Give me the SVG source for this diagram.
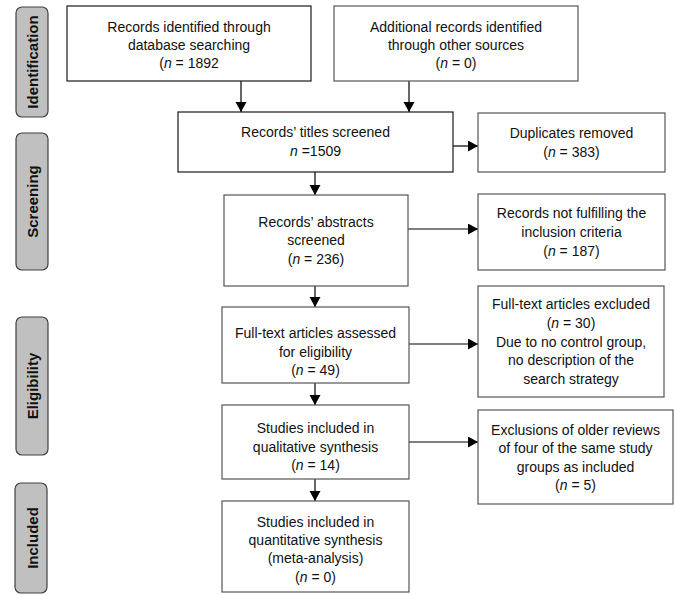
<svg xmlns="http://www.w3.org/2000/svg" width="675" height="595" viewBox="0 0 675 595">
<style>
.box{fill:#ffffff;stroke:#1a1a1a;stroke-width:1.2}
.gbox{fill:#ffffff;stroke:#555555;stroke-width:1.2}
.lab{fill:#c0c0c0;stroke:#404040;stroke-width:1.2}
.t{font-family:"Liberation Sans",Arial,sans-serif;font-size:14px;fill:#111111;text-anchor:middle}
.lt{font-family:"Liberation Sans",Arial,sans-serif;font-size:15px;font-weight:bold;fill:#111111;text-anchor:middle}
.i{font-style:italic}
.c{stroke:#000000;stroke-width:1.2;fill:none;marker-end:url(#ah)}
</style>
<defs>
<marker id="ah" markerUnits="userSpaceOnUse" markerWidth="12" markerHeight="12" refX="10" refY="5.5" orient="auto">
<path d="M0,0 L10,5.5 L0,11 Z" fill="#000000"/>
</marker>
</defs>
<rect width="675" height="595" fill="#ffffff"/>

<g id="phase-identification">
<rect class="lab" x="16" y="7" width="32" height="110" rx="6"/>
<text class="lt" transform="translate(38,62) rotate(-90)">Identification</text>
</g>
<g id="phase-screening">
<rect class="lab" x="16" y="133" width="32" height="137" rx="6"/>
<text class="lt" transform="translate(38,201.5) rotate(-90)">Screening</text>
</g>
<g id="phase-eligibility">
<rect class="lab" x="16" y="317" width="32" height="138" rx="6"/>
<text class="lt" transform="translate(38,386) rotate(-90)">Eligibility</text>
</g>
<g id="phase-included">
<rect class="lab" x="15" y="483" width="32" height="110" rx="6"/>
<text class="lt" transform="translate(38,538) rotate(-90)">Included</text>
</g>

<g id="connectors">
<line class="c" x1="241" y1="81" x2="241" y2="112"/>
<line class="c" x1="409" y1="81" x2="409" y2="112"/>
<line class="c" x1="453" y1="146" x2="478" y2="146"/>
<line class="c" x1="315" y1="172" x2="315" y2="195"/>
<line class="c" x1="408" y1="229" x2="478" y2="229"/>
<line class="c" x1="315" y1="286" x2="315" y2="307"/>
<line class="c" x1="409" y1="344" x2="478" y2="344"/>
<line class="c" x1="315" y1="383" x2="315" y2="405"/>
<line class="c" x1="409" y1="442" x2="478" y2="442"/>
<line class="c" x1="315" y1="479" x2="315" y2="501"/>
</g>

<g id="n-database">
<rect class="box" x="67" y="6" width="244" height="75"/>
<text class="t" x="189" y="32">Records identified through</text>
<text class="t" x="189" y="50">database searching</text>
<text class="t" x="189" y="68">(<tspan class="i">n</tspan> = 1892</text>
</g>
<g id="n-other">
<rect class="gbox" x="334" y="6" width="244" height="75"/>
<text class="t" x="456" y="32">Additional records identified</text>
<text class="t" x="456" y="50">through other sources</text>
<text class="t" x="456" y="68">(<tspan class="i">n</tspan> = 0)</text>
</g>
<g id="n-titles">
<rect class="box" x="178" y="112" width="275" height="60"/>
<text class="t" x="315.5" y="137">Records’ titles screened</text>
<text class="t" x="315.5" y="156"><tspan class="i">n</tspan> =1509</text>
</g>
<g id="n-duplicates">
<rect class="gbox" x="478" y="113" width="187" height="59"/>
<text class="t" x="571.5" y="138">Duplicates removed</text>
<text class="t" x="571.5" y="157">(<tspan class="i">n</tspan> = 383)</text>
</g>
<g id="n-abstracts">
<rect class="gbox" x="224" y="195" width="184" height="91"/>
<text class="t" x="316" y="227">Records’ abstracts</text>
<text class="t" x="316" y="245">screened</text>
<text class="t" x="316" y="264">(<tspan class="i">n</tspan> = 236)</text>
</g>
<g id="n-notfulfilling">
<rect class="gbox" x="478" y="194" width="187" height="76"/>
<text class="t" x="571.5" y="218">Records not fulfilling the</text>
<text class="t" x="571.5" y="237">inclusion criteria</text>
<text class="t" x="571.5" y="256">(<tspan class="i">n</tspan> = 187)</text>
</g>
<g id="n-fulltext">
<rect class="gbox" x="222" y="307" width="187" height="76"/>
<text class="t" x="315.5" y="338">Full-text articles assessed</text>
<text class="t" x="315.5" y="357">for eligibility</text>
<text class="t" x="315.5" y="375">(<tspan class="i">n</tspan> = 49)</text>
</g>
<g id="n-excluded">
<rect class="gbox" x="478" y="286" width="186" height="111"/>
<text class="t" x="571" y="309">Full-text articles excluded</text>
<text class="t" x="571" y="328">(<tspan class="i">n</tspan> = 30)</text>
<text class="t" x="571" y="347">Due to no control group,</text>
<text class="t" x="571" y="365">no description of the</text>
<text class="t" x="571" y="384">search strategy</text>
</g>
<g id="n-qualitative">
<rect class="gbox" x="222" y="405" width="187" height="74"/>
<text class="t" x="315.5" y="433">Studies included in</text>
<text class="t" x="315.5" y="452">qualitative synthesis</text>
<text class="t" x="315.5" y="470">(<tspan class="i">n</tspan> = 14)</text>
</g>
<g id="n-olderreviews">
<rect class="gbox" x="478" y="410" width="195" height="94"/>
<text class="t" x="575.5" y="435">Exclusions of older reviews</text>
<text class="t" x="575.5" y="453">of four of the same study</text>
<text class="t" x="575.5" y="472">groups as included</text>
<text class="t" x="575.5" y="490">(<tspan class="i">n</tspan> = 5)</text>
</g>
<g id="n-quantitative">
<rect class="gbox" x="222" y="501" width="187" height="91"/>
<text class="t" x="315.5" y="527">Studies included in</text>
<text class="t" x="315.5" y="545">quantitative synthesis</text>
<text class="t" x="315.5" y="563">(meta-analysis)</text>
<text class="t" x="315.5" y="582">(<tspan class="i">n</tspan> = 0)</text>
</g>
</svg>
